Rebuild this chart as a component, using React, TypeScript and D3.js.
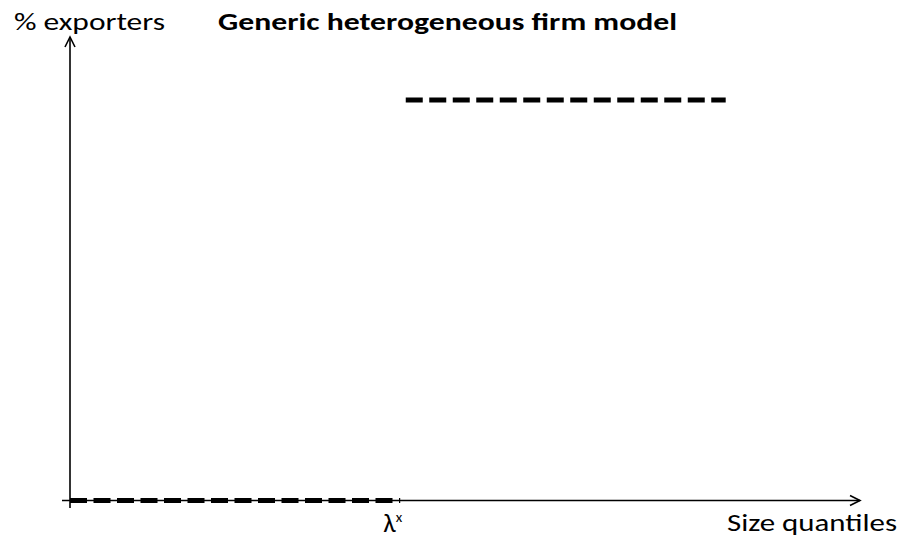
import * as d3 from 'd3';

// Step function: share of exporters by size quantile (0 below the cutoff, 1 above)
const segStart = [0, 42.5];
const segEnd = [41.8, 83];
const segValue = [0, 1];
const cutoffLabel = 'λ';
const cutoffAt = 41.8;

const WIDTH = 904;
const HEIGHT = 548;
const FONT = "Carlito, 'Open Sans', 'Liberation Sans', sans-serif";

export default function App() {
  const x = d3.scaleLinear().domain([0, 100]).range([70, 860]);
  const y = d3.scaleLinear().domain([0, 1]).range([500.5, 100]);

  const line = d3.line<[number, number]>()
    .x(d => x(d[0]))
    .y(d => y(d[1]));

  const segments = segStart.map((s, i) => [[s, segValue[i]], [segEnd[i], segValue[i]]] as [number, number][]);

  const x0 = x(0);
  const y0 = y(0);
  const xTip = x(100);
  const yTip = 37;

  return (
    <svg
      width={WIDTH}
      height={HEIGHT}
      style={{ position: 'absolute', left: 0, top: 0, background: '#fff' }}
    >
      <rect width={WIDTH} height={HEIGHT} fill="#fff" />

      {/* axes */}
      <line x1={62} y1={y0} x2={xTip} y2={y0} stroke="#000" strokeWidth={1.6} />
      <polyline
        points={`${xTip - 10},${y0 - 5} ${xTip},${y0} ${xTip - 10},${y0 + 5}`}
        fill="none" stroke="#000" strokeWidth={1.6}
      />
      <line x1={x0} y1={508} x2={x0} y2={yTip} stroke="#000" strokeWidth={1.6} />
      <polyline
        points={`${x0 - 5},${yTip + 10} ${x0},${yTip} ${x0 + 5},${yTip + 10}`}
        fill="none" stroke="#000" strokeWidth={1.6}
      />

      {/* dashed step */}
      {segments.map((s, i) => (
        <path
          key={i}
          d={line(s) || ''}
          fill="none"
          stroke="#000"
          strokeWidth={5}
          strokeDasharray="17,6.5"
        />
      ))}

      {/* labels */}
      <text x={14} y={30} fontFamily={FONT} fontSize={24} fill="#000"
        textLength={151} lengthAdjust="spacingAndGlyphs">% exporters</text>
      <text x={218} y={30} fontFamily={FONT} fontSize={25} fontWeight="bold" fill="#000"
        textLength={459} lengthAdjust="spacingAndGlyphs">Generic heterogeneous firm model</text>
      <text x={727} y={531} fontFamily={FONT} fontSize={24} fill="#000"
        textLength={170} lengthAdjust="spacingAndGlyphs">Size quantiles</text>
      <text x={x(cutoffAt) - 17} y={532} fontFamily={FONT} fontSize={27} fill="#000">
        {cutoffLabel}
        <tspan dy={-10} fontSize={15}>x</tspan>
      </text>
    </svg>
  );
}
